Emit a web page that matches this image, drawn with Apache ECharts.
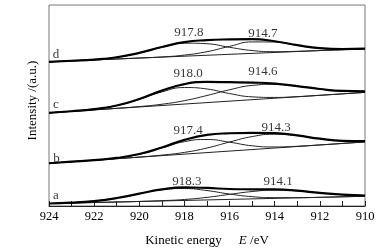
<!DOCTYPE html>
<html>
<head>
<meta charset="utf-8">
<script src="https://cdn.jsdelivr.net/npm/echarts@6/dist/echarts.min.js"></script>
<style>
  html, body { margin: 0; padding: 0; background: #fff; }
  #chart { width: 387px; height: 252px; }
</style>
</head>
<body>
<div id="chart"></div>
<script>
// kinetic energy sample points (eV)
var energy = [924, 923, 922, 921, 920, 919, 918, 917, 916, 915, 914, 913, 912, 911, 910];

// spectrum d
var baseD = [148.5, 162.0];
var peak1D = [148.5, 149.6, 150.8, 153.2, 157.6, 163.5, 167.7, 167.1, 163.4, 160.1, 158.9, 159.3, 160.1, 161.0, 162.0];
var peak2D = [148.5, 149.5, 150.4, 151.4, 152.4, 153.5, 155.4, 158.9, 164.4, 169.0, 168.9, 165.4, 162.5, 161.6, 162.1];
var envD = [148.5, 149.6, 150.8, 153.2, 157.7, 163.7, 168.8, 170.8, 171.6, 171.9, 169.7, 165.6, 162.5, 161.6, 162.1];

// spectrum c
var baseC = [96.0, 117.0];
var peak1C = [96.0, 97.6, 99.8, 103.4, 109.8, 117.5, 122.0, 120.5, 115.8, 112.4, 111.8, 112.6, 114.0, 115.5, 117.0];
var peak2C = [96.0, 97.5, 99.0, 100.6, 102.4, 104.8, 108.5, 113.8, 119.7, 124.2, 125.3, 123.4, 120.4, 118.5, 118.1];
var envC = [96.0, 97.6, 99.8, 103.5, 110.2, 118.8, 125.5, 127.8, 127.5, 127.1, 126.1, 123.5, 120.5, 118.5, 118.1];

// spectrum b
var baseB = [44.0, 66.0];
var peak1B = [44.0, 45.6, 47.2, 49.5, 53.4, 59.8, 66.3, 68.5, 65.7, 62.0, 60.8, 61.5, 62.9, 64.4, 66.0];
var peak2B = [44.0, 45.6, 47.1, 48.7, 50.4, 52.4, 55.2, 59.7, 65.9, 71.5, 74.0, 72.5, 69.3, 67.1, 66.8];
var envB = [44.0, 45.6, 47.2, 49.5, 53.5, 60.3, 68.1, 73.2, 74.9, 75.4, 75.1, 72.7, 69.3, 67.1, 66.8];

// spectrum a
var baseA = [2.5, 10.0];
var peak1A = [2.6, 3.4, 5.1, 8.2, 12.6, 16.8, 18.0, 15.9, 12.3, 9.6, 8.6, 8.6, 8.9, 9.5, 10.0];
var peak2A = [2.5, 3.0, 3.6, 4.1, 4.7, 5.5, 6.7, 8.9, 12.0, 14.9, 16.4, 15.6, 13.5, 11.8, 10.8];
var envA = [2.6, 3.4, 5.1, 8.2, 12.7, 17.1, 19.1, 18.6, 17.5, 17.2, 17.1, 15.8, 13.5, 11.8, 10.8];

// peak annotations: text, anchor energy, anchor intensity
var peakText = ['917.8', '914.7', '918.0', '914.6', '917.4', '914.3', '918.3', '914.1'];
var peakTextE = [917.80, 914.52, 917.84, 914.52, 917.84, 913.94, 917.89, 913.85];
var peakTextI = [179, 178, 136, 138, 78, 81, 25, 25];

// curve letters
var curveText = ['d', 'c', 'b', 'a'];
var curveTextE = [923.69, 923.69, 923.67, 923.69];
var curveTextI = [156, 104, 49, 10.5];

var serif = 'Liberation Serif, Times New Roman, serif';

function pairs(ys) {
  return energy.map(function (e, i) { return [e, ys[i]]; });
}

function thin(ys) {
  return {
    type: 'line', data: pairs(ys), smooth: true, symbol: 'none', silent: true,
    lineStyle: { color: '#222', width: 1 }
  };
}

function thick(ys) {
  return {
    type: 'line', data: pairs(ys), smooth: true, symbol: 'none', silent: true,
    lineStyle: { color: '#000', width: 2.2 }
  };
}

function baseline(ends) {
  return {
    type: 'line', data: [[energy[0], ends[0]], [energy[energy.length - 1], ends[1]]],
    symbol: 'none', silent: true,
    lineStyle: { color: '#222', width: 1 }
  };
}

var series = [];
[[baseD, peak1D, peak2D, envD], [baseC, peak1C, peak2C, envC],
 [baseB, peak1B, peak2B, envB], [baseA, peak1A, peak2A, envA]].forEach(function (s) {
  series.push(baseline(s[0]), thin(s[1]), thin(s[2]), thick(s[3]));
});

series.push({
  type: 'scatter', symbolSize: 0, silent: true,
  data: peakText.map(function (t, i) { return { value: [peakTextE[i], peakTextI[i]], name: t }; }),
  label: { show: true, position: 'inside', formatter: '{b}', color: '#000', fontFamily: serif, fontSize: 13 }
});
series.push({
  type: 'scatter', symbolSize: 0, silent: true,
  data: curveText.map(function (t, i) { return { value: [curveTextE[i], curveTextI[i]], name: t }; }),
  label: { show: true, position: 'inside', formatter: '{b}', color: '#000', fontFamily: serif, fontSize: 13 }
});

var chart = echarts.init(document.getElementById('chart'));
chart.setOption({
  animation: false,
  backgroundColor: '#fff',
  grid: { left: 49, right: 22, top: 5, bottom: 40, show: true, borderColor: '#777', borderWidth: 1 },
  xAxis: {
    type: 'value', min: 910, max: 924, interval: 1, inverse: true,
    axisLine: { lineStyle: { color: '#222', width: 1 } },
    axisTick: { inside: true, length: 5, lineStyle: { color: '#222' } },
    splitLine: { show: false },
    axisLabel: {
      color: '#000', fontFamily: serif, fontSize: 12.5, margin: 4,
      formatter: function (v) { return v % 2 === 0 ? String(v) : ''; }
    },
    name: '{n|Kinetic energy}{i|E}{n| /eV}',
    nameLocation: 'middle', nameGap: 28,
    nameTextStyle: {
      rich: {
        n: { fontFamily: serif, fontSize: 13, color: '#000' },
        i: { fontFamily: serif, fontSize: 13, color: '#000', fontStyle: 'italic', padding: [0, 0, 0, 17] }
      }
    }
  },
  yAxis: {
    type: 'value', min: 0, max: 207,
    axisLine: { show: false }, axisTick: { show: false },
    axisLabel: { show: false }, splitLine: { show: false }
  },
  graphic: [{
    type: 'text', x: 33, y: 100.5, rotation: Math.PI / 2,
    style: { text: 'Intensity /(a.u.)', fontFamily: serif, fontSize: 13, fill: '#000', textAlign: 'center', textVerticalAlign: 'middle' }
  }],
  series: series
});
</script>
</body>
</html>
